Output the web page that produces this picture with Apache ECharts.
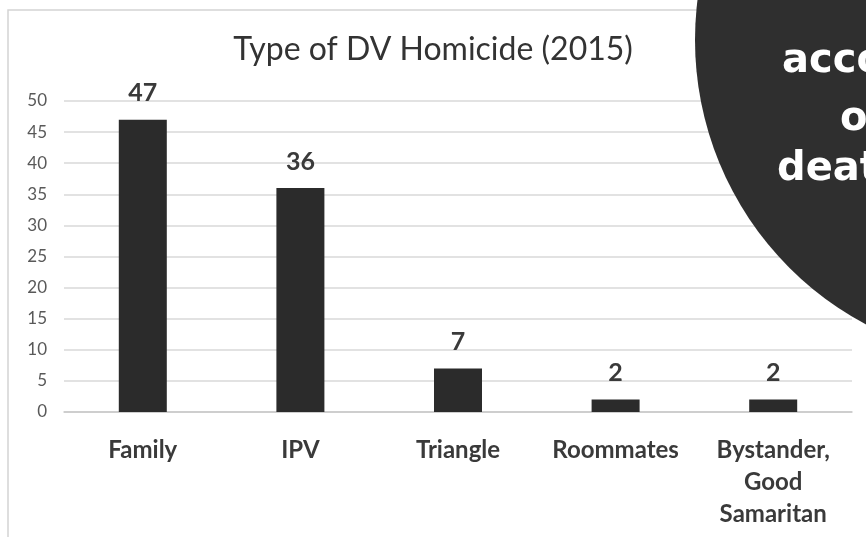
<!DOCTYPE html>
<html>
<head>
<meta charset="utf-8">
<script src="https://cdn.jsdelivr.net/npm/echarts@6/dist/echarts.min.js"></script>
<style>
  html, body { margin: 0; padding: 0; background: #fff; }
  #chart { width: 866px; height: 537px; }
</style>
</head>
<body>
<div id="chart"></div>
<script>
// data
var categories = ['Family', 'IPV', 'Triangle', 'Roommates', 'Bystander,\nGood\nSamaritan'];
var homicides = [47, 36, 7, 2, 2];
var yTicks = { min: 0, max: 50, interval: 5 };
var circleLines = ['according', 'of', 'deaths'];

var myChart = echarts.init(document.getElementById('chart'));

var circleText = function (txt, x, y) {
    return {
        type: 'text', x: x, y: y, z: 11,
        style: {
            text: txt, fill: '#fff',
            fontFamily: 'DejaVu Sans', fontWeight: 'bold', fontSize: 40,
            verticalAlign: 'middle'
        }
    };
};

var option = {
    backgroundColor: '#fff',
    animation: false,
    title: {
        text: 'Type of DV Homicide (2015)',
        left: 'center',
        top: 29,
        textStyle: {
            fontFamily: 'Lato',
            fontWeight: 'normal',
            fontSize: 32,
            color: '#333333'
        }
    },
    grid: { left: 64, right: 14, top: 101, bottom: 125 },
    xAxis: {
        type: 'category',
        data: categories,
        axisLine: { lineStyle: { color: '#c8c8c8', width: 1.5 } },
        axisTick: { show: false },
        axisLabel: {
            interval: 0,
            margin: 22,
            fontFamily: 'Lato',
            fontWeight: 'bold',
            fontSize: 24,
            lineHeight: 32,
            color: '#3a3a3a'
        }
    },
    yAxis: {
        type: 'value',
        min: yTicks.min,
        max: yTicks.max,
        interval: yTicks.interval,
        axisLine: { show: false },
        axisTick: { show: false },
        splitLine: { lineStyle: { color: '#d9d9d9', width: 1.5 } },
        axisLabel: {
            margin: 17,
            fontFamily: 'Lato',
            fontSize: 17,
            color: '#595959'
        }
    },
    series: [
        {
            name: 'Homicides',
            type: 'bar',
            data: homicides,
            barWidth: 48,
            itemStyle: { color: '#2b2b2b' },
            label: {
                show: true,
                position: 'top',
                distance: 14,
                fontFamily: 'Lato',
                fontWeight: 'bold',
                fontSize: 25,
                color: '#3a3a3a'
            }
        }
    ],
    graphic: [
        {
            type: 'rect',
            shape: { x: 8, y: 10, width: 900, height: 600 },
            style: { fill: 'none', stroke: '#d4d4d4', lineWidth: 1.5 },
            z: -1
        },
        {
            type: 'circle',
            shape: { cx: 1017, cy: 40, r: 322 },
            style: { fill: '#2f2f2f' },
            z: 10
        },
        circleText(circleLines[0], 782, 62),
        circleText(circleLines[1], 840, 120),
        circleText(circleLines[2], 777, 170)
    ]
};

myChart.setOption(option);
</script>
</body>
</html>
